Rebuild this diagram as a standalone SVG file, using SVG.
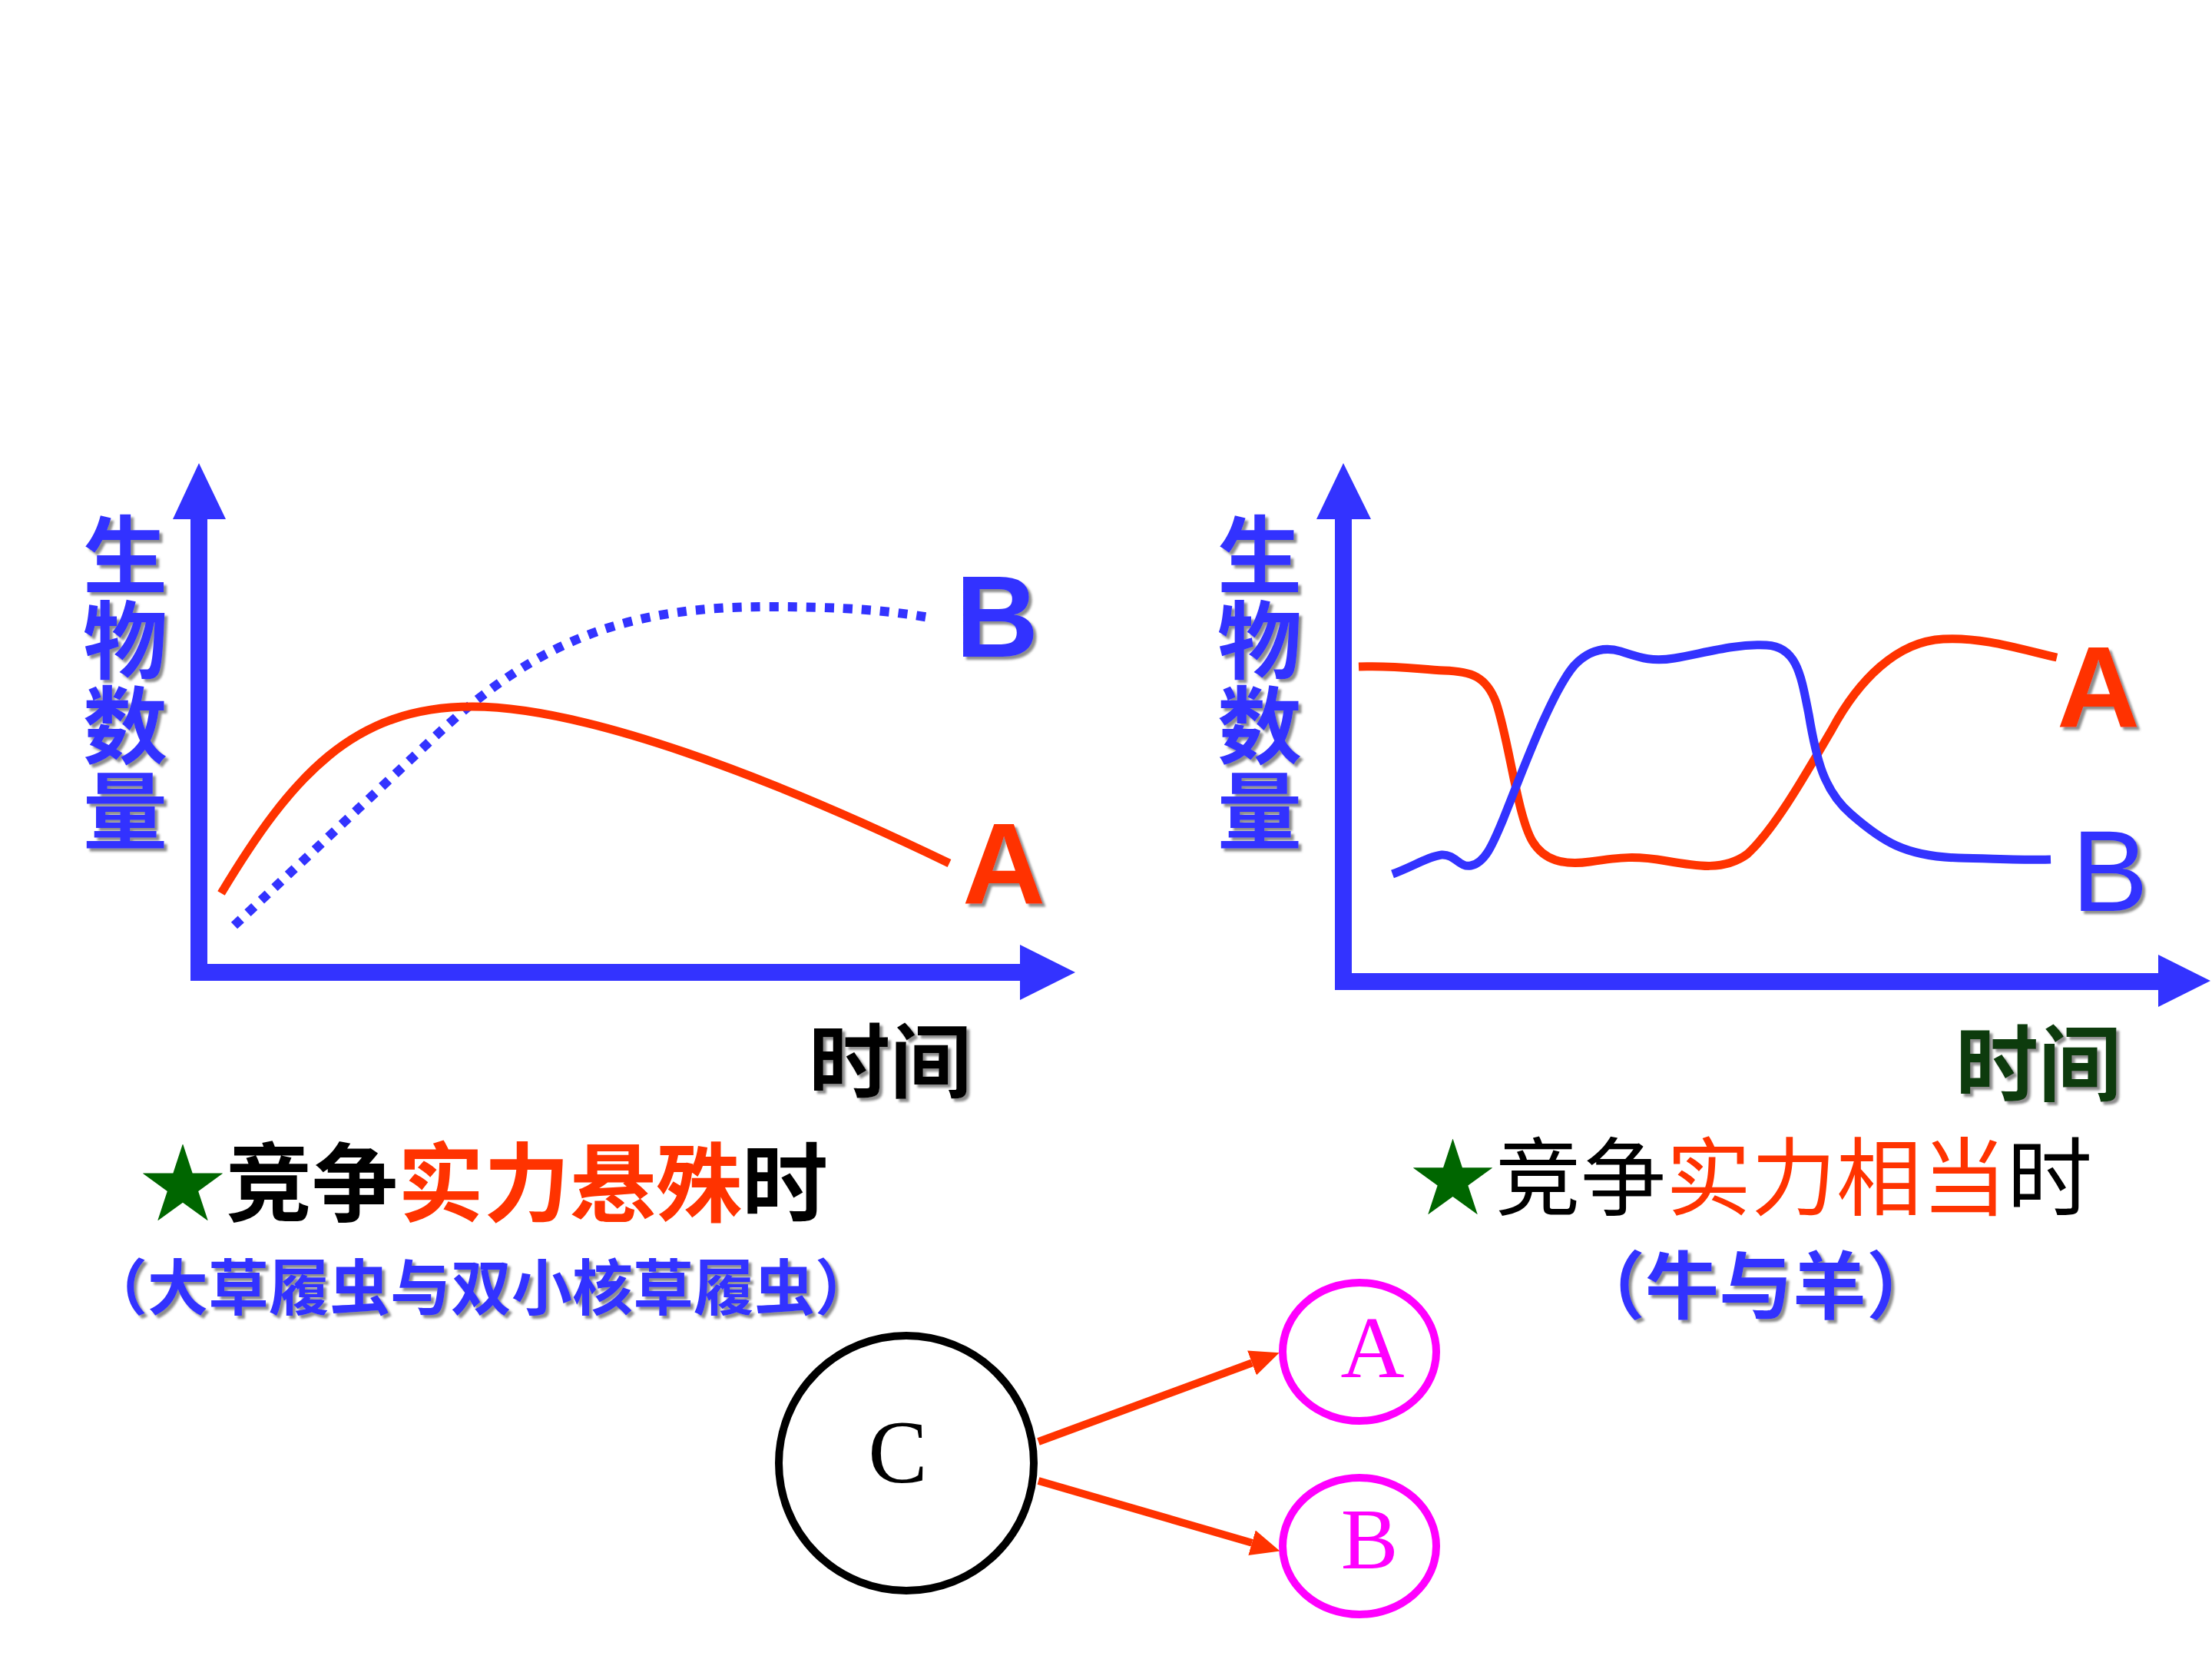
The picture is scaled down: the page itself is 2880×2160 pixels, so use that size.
<svg xmlns="http://www.w3.org/2000/svg" width="2880" height="2160" viewBox="0 0 2880 2160">
<defs>
<filter id="sh" x="-10%" y="-10%" width="130%" height="130%">
<feDropShadow dx="4" dy="4" stdDeviation="1.5" flood-color="#808080" flood-opacity="0.9"/>
</filter>
<marker id="ah" markerUnits="userSpaceOnUse" markerWidth="40" markerHeight="36" refX="0" refY="17" orient="auto">
<path d="M0,0 L38,17 L0,34 z" fill="#FF3300"/>
</marker>
<style>
.axis{stroke:#3333FF;stroke-width:22;fill:none}
.axh{fill:#3333FF}
.cjk{font-family:"Noto Sans CJK SC","Noto Sans",sans-serif}
.vert{writing-mode:vertical-rl;letter-spacing:1px}
.lat{font-family:"Liberation Sans",Arial,sans-serif}
.ser{font-family:"Liberation Serif","Times New Roman",serif}
.red{stroke:#FF3300;fill:none;stroke-linecap:butt}
.blu{stroke:#3333FF;fill:none}
.conn{stroke:#FF3300;stroke-width:10;fill:none}
</style>
</defs>
<rect width="2880" height="2160" fill="#FFFFFF"/>

<g id="left-chart">
<line class="axis" x1="259" y1="672" x2="259" y2="1277"/>
<line class="axis" x1="248" y1="1266" x2="1332" y2="1266"/>
<polygon class="axh" points="259,603 225,676 294,676"/>
<polygon class="axh" points="1400,1266 1328,1230 1328,1302"/>
<path class="blu" stroke-width="12" stroke-dasharray="12 12" d="M305,1205 L560,965 C700,830 820,790 1000,790 C1100,790 1160,795 1215,805"/>
<path class="red" stroke-width="11" d="M288,1163 C380,1010 460,920 615,920 C760,920 1000,1010 1236,1124"/>
<text class="cjk vert" x="163" y="667" font-size="110" font-weight="700" fill="#3333FF" filter="url(#sh)">生物数量</text>
<text class="lat" x="1244" y="855" font-size="150" font-weight="700" fill="#3333FF" filter="url(#sh)">B</text>
<text class="lat" x="1253" y="1176" font-size="150" font-weight="700" fill="#FF3300" filter="url(#sh)">A</text>
<text class="cjk" x="1053" y="1421" font-size="106" font-weight="700" fill="#000000" filter="url(#sh)">时间</text>
</g>

<g id="right-chart">
<line class="axis" x1="1749" y1="672" x2="1749" y2="1289"/>
<line class="axis" x1="1738" y1="1278" x2="2814" y2="1278"/>
<polygon class="axh" points="1749,603 1714,676 1785,676"/>
<polygon class="axh" points="2878,1277 2810,1243 2810,1311"/>
<path class="red" stroke-width="11" d="M1769,868 C1820,866 1850,872 1880,873 C1915,874 1935,880 1948,915 C1965,965 1975,1060 1995,1095 C2010,1120 2035,1127 2070,1122 C2110,1116 2130,1114 2170,1121 C2210,1128 2245,1134 2275,1112 C2310,1080 2350,1010 2385,950 C2420,885 2470,835 2530,832 C2580,829 2630,845 2678,856"/>
<path class="blu" stroke-width="11" d="M1813,1138 C1840,1128 1860,1115 1877,1113 C1895,1112 1900,1130 1915,1127 C1935,1123 1945,1095 1957,1067 C1980,1010 2020,900 2050,866 C2070,845 2090,842 2110,848 C2135,856 2150,862 2180,857 C2220,850 2260,838 2300,840 C2340,842 2345,880 2355,930 C2365,990 2375,1030 2410,1060 C2450,1095 2480,1115 2550,1117 C2600,1118 2640,1120 2670,1119"/>
<text class="cjk vert" x="1640" y="667" font-size="110" font-weight="700" fill="#3333FF" filter="url(#sh)">生物数量</text>
<text class="lat" x="2678" y="946" font-size="150" font-weight="700" fill="#FF3300" filter="url(#sh)">A</text>
<text class="lat" x="2697" y="1186" font-size="150" fill="#3333FF" filter="url(#sh)">B</text>
<text class="cjk" x="2546" y="1425" font-size="108" font-weight="700" fill="#0D3B0D" filter="url(#sh)">时间</text>
</g>

<g id="left-caption">
<text class="cjk" x="182" y="1582" font-size="112" font-weight="700" fill="#000000"><tspan fill="#006600">★</tspan>竞争<tspan fill="#FF3300">实力悬殊</tspan>时</text>
<text class="cjk" x="113" y="1706" font-size="79" font-weight="700" fill="#3333FF" filter="url(#sh)">（大草履虫与双小核草履虫）</text>
</g>

<g id="right-caption">
<text class="cjk" x="1836" y="1574" font-size="111" font-weight="400" fill="#000000"><tspan fill="#006600">★</tspan>竞争<tspan fill="#FF3300">实力相当</tspan>时</text>
<text class="cjk" x="2046" y="1709" font-size="96" font-weight="700" fill="#3333FF" filter="url(#sh)">（牛与羊）</text>
</g>

<g id="node-C">
<circle cx="1180" cy="1905" r="166" fill="#FFFFFF" stroke="#000000" stroke-width="10"/>
<text class="ser" x="1169" y="1930" font-size="116" fill="#000000" text-anchor="middle">C</text>
</g>
<g id="node-A">
<ellipse cx="1770" cy="1760" rx="100" ry="90" fill="#FFFFFF" stroke="#FF00FF" stroke-width="10"/>
<text class="ser" x="1787" y="1793" font-size="115" fill="#FF00FF" text-anchor="middle">A</text>
</g>
<g id="node-B">
<ellipse cx="1770" cy="2013" rx="100" ry="89" fill="#FFFFFF" stroke="#FF00FF" stroke-width="10"/>
<text class="ser" x="1783" y="2042" font-size="112" fill="#FF00FF" text-anchor="middle">B</text>
</g>

<g id="connectors">
<line class="conn" x1="1352" y1="1877" x2="1630" y2="1774.5" marker-end="url(#ah)"/>
<line class="conn" x1="1352" y1="1928" x2="1630" y2="2008.8" marker-end="url(#ah)"/>
</g>
</svg>
